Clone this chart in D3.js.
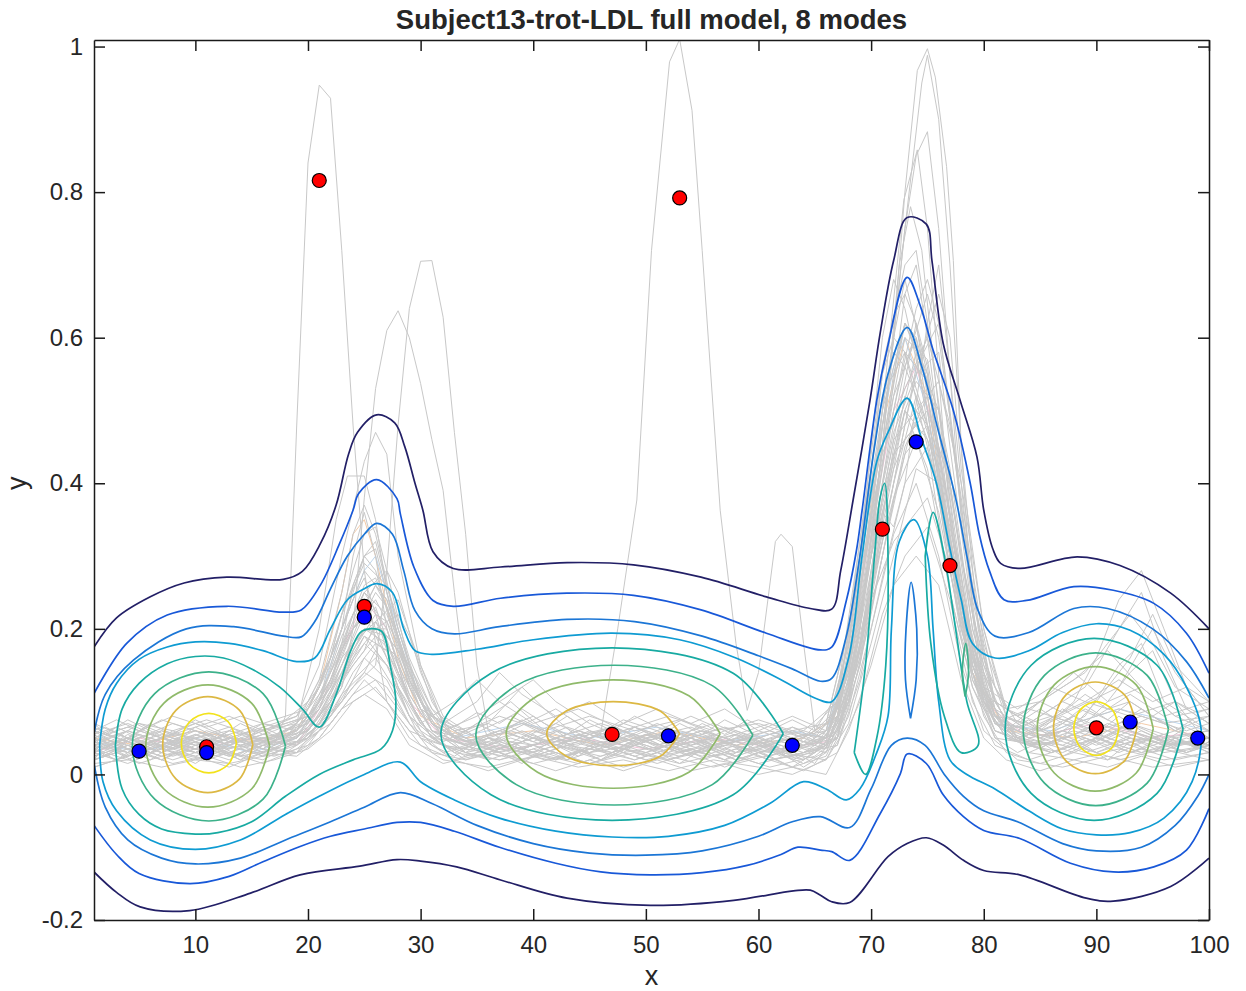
<!DOCTYPE html>
<html>
<head>
<meta charset="utf-8">
<script src="https://cdn.jsdelivr.net/npm/d3@7/dist/d3.min.js"></script>
<style>
  body { margin: 0; background: #fff; }
  text { font-family: "Liberation Sans", Arial, Helvetica, sans-serif; fill: #262626; }
</style>
</head>
<body>
<div id="chart"></div>
<script>

// ---- data ----
const titleText = "Subject13-trot-LDL full model, 8 modes";
const xTicks = [10, 20, 30, 40, 50, 60, 70, 80, 90, 100];
const yTicks = [-0.2, 0, 0.2, 0.4, 0.6, 0.8, 1];
const yTickLabels = ["-0.2", "0", "0.2", "0.4", "0.6", "0.8", "1"];

// red and blue mode markers [x, y]
const redPoints = [[21, 0.816], [53, 0.792], [25, 0.231], [11, 0.038], [47, 0.055], [71, 0.337], [77, 0.287], [90, 0.064]];
const bluePoints = [[5, 0.032], [11, 0.030], [25, 0.216], [52, 0.053], [63, 0.040], [74, 0.457], [93, 0.072], [99, 0.050]];

// gray trajectories, [x, y] vertices
const grayCurves = [
  [[1,0.03],[3,0.045],[6,0.03],[9,0.05],[12,0.035],[15,0.04],[18,0.05],[20,0.09],[22,0.16],[24,0.24],[25,0.27],[26,0.22],[28,0.12],[30,0.06],[33,0.03],[36,0.05],[40,0.03],[44,0.05],[48,0.03],[52,0.04],[56,0.025],[60,0.035],[64,0.02],[66,0.04],[68,0.12],[70,0.3],[72,0.5],[73,0.58],[75,0.45],[77,0.25],[79,0.12],[81,0.06],[84,0.04],[88,0.06],[92,0.04],[96,0.055],[100,0.035]],
  [[1,0.05],[4,0.03],[7,0.06],[10,0.04],[13,0.055],[16,0.03],[19,0.06],[21,0.12],[23,0.2],[24,0.3],[25,0.36],[26,0.3],[27,0.2],[29,0.1],[31,0.05],[34,0.06],[38,0.1],[41,0.06],[45,0.04],[49,0.055],[53,0.03],[57,0.045],[61,0.02],[65,0.03],[67,0.08],[69,0.22],[71,0.42],[73,0.66],[74,0.7],[75,0.6],[77,0.35],[79,0.15],[81,0.08],[85,0.05],[89,0.09],[93,0.06],[97,0.04],[100,0.05]],
  [[1,0.02],[4,0.04],[7,0.025],[10,0.035],[13,0.02],[16,0.045],[19,0.04],[21,0.08],[23,0.15],[25,0.22],[26,0.25],[27,0.23],[29,0.13],[31,0.07],[34,0.03],[37,0.04],[41,0.02],[45,0.035],[49,0.02],[53,0.04],[57,0.02],[61,0.04],[64,0.01],[66,0.03],[68,0.1],[70,0.26],[72,0.4],[74,0.52],[76,0.42],[78,0.22],[80,0.1],[82,0.05],[86,0.03],[90,0.05],[94,0.03],[98,0.05],[100,0.04]],
  [[1,0.04],[4,0.06],[7,0.04],[10,0.06],[13,0.04],[16,0.06],[19,0.08],[21,0.15],[23,0.3],[25,0.43],[26,0.47],[27,0.44],[28,0.3],[30,0.15],[32,0.08],[35,0.05],[39,0.07],[43,0.04],[47,0.06],[51,0.04],[55,0.06],[59,0.04],[63,0.05],[66,0.06],[68,0.18],[70,0.4],[72,0.6],[73,0.68],[75,0.55],[77,0.3],[79,0.14],[81,0.07],[85,0.06],[89,0.04],[93,0.07],[97,0.05],[100,0.06]],
  [[1,0.035],[4,0.02],[7,0.045],[10,0.03],[13,0.05],[16,0.035],[19,0.07],[21,0.2],[22.5,0.35],[23.5,0.41],[25,0.41],[26,0.35],[27,0.25],[29,0.12],[31,0.06],[34,0.04],[38,0.06],[42,0.04],[46,0.025],[50,0.045],[54,0.03],[58,0.05],[62,0.03],[66,0.05],[68,0.15],[70,0.35],[71,0.5],[73,0.62],[74,0.6],[76,0.4],[78,0.2],[80,0.1],[83,0.05],[87,0.08],[91,0.05],[95,0.08],[100,0.04]],
  [[1,0.05],[4,0.035],[7,0.05],[10,0.03],[13,0.045],[16,0.05],[17,0.04],[18,0.08],[19,0.48],[20,0.84],[21,0.947],[22,0.929],[23,0.72],[24,0.48],[25,0.28],[26,0.18],[27,0.1],[29,0.06],[32,0.04],[36,0.03],[40,0.05],[44,0.03],[48,0.05],[52,0.03],[56,0.05],[60,0.03],[64,0.04],[67,0.06],[69,0.16],[71,0.35],[73,0.52],[75,0.48],[77,0.3],[79,0.13],[81,0.06],[85,0.04],[89,0.06],[93,0.04],[97,0.06],[100,0.04]],
  [[1,0.025],[4,0.04],[7,0.02],[10,0.045],[13,0.03],[16,0.02],[19,0.045],[22,0.08],[24,0.12],[26,0.15],[27,0.28],[28,0.48],[29,0.64],[30,0.705],[31,0.706],[32,0.628],[33,0.47],[34,0.33],[35,0.15],[36,0.06],[38,0.04],[42,0.06],[46,0.04],[50,0.03],[54,0.05],[58,0.03],[62,0.045],[66,0.03],[68,0.1],[70,0.25],[72,0.45],[74,0.58],[76,0.5],[78,0.3],[80,0.14],[82,0.07],[86,0.05],[90,0.03],[94,0.05],[98,0.03],[100,0.04]],
  [[1,0.04],[4,0.05],[7,0.03],[10,0.05],[13,0.035],[16,0.05],[19,0.04],[21,0.07],[23,0.12],[24,0.2],[25,0.38],[26,0.53],[27,0.61],[28,0.637],[29,0.6],[30,0.537],[31,0.46],[32,0.39],[33,0.25],[34,0.12],[36,0.05],[40,0.04],[44,0.06],[48,0.04],[52,0.06],[56,0.04],[60,0.05],[64,0.03],[67,0.05],[69,0.2],[71,0.45],[73,0.62],[75,0.55],[77,0.32],[79,0.15],[81,0.07],[85,0.05],[89,0.07],[93,0.05],[97,0.04],[100,0.05]],
  [[1,0.03],[4,0.05],[7,0.035],[10,0.025],[13,0.045],[16,0.03],[19,0.05],[21,0.1],[23,0.18],[25,0.22],[27,0.16],[29,0.08],[32,0.04],[36,0.03],[40,0.05],[44,0.04],[46,0.057],[47.5,0.2],[49.2,0.377],[50.5,0.72],[52.1,0.979],[53,1.01],[54.1,0.912],[55,0.72],[56.6,0.363],[58,0.18],[59,0.088],[60,0.14],[61.5,0.32],[62,0.33],[63,0.313],[64,0.18],[65,0.06],[67,0.05],[69,0.18],[71,0.38],[73,0.5],[75,0.42],[77,0.25],[79,0.12],[81,0.05],[85,0.04],[89,0.06],[93,0.03],[97,0.05],[100,0.03]],
  [[1,0.045],[4,0.03],[7,0.05],[10,0.04],[13,0.025],[16,0.04],[19,0.05],[21,0.09],[23,0.14],[25,0.2],[27,0.18],[29,0.1],[31,0.05],[35,0.04],[39,0.02],[43,0.04],[47,0.03],[51,0.05],[55,0.03],[59,0.05],[63,0.02],[66,0.04],[68,0.1],[70,0.3],[72,0.6],[73,0.8],[74.1,0.967],[75,0.997],[75.7,0.958],[76.7,0.835],[77.3,0.706],[78,0.45],[79,0.22],[80,0.1],[82,0.05],[86,0.03],[90,0.05],[94,0.03],[98,0.045],[100,0.03]],
  [[1,0.02],[4,0.035],[7,0.02],[10,0.04],[13,0.05],[16,0.035],[19,0.03],[21,0.06],[23,0.1],[25,0.16],[27,0.13],[29,0.07],[32,0.03],[36,0.045],[40,0.03],[44,0.015],[48,0.035],[52,0.02],[56,0.035],[60,0.015],[64,0.03],[67,0.06],[69,0.2],[71,0.45],[73,0.75],[74.5,0.95],[75,0.988],[76,0.9],[77,0.7],[78,0.45],[79.5,0.2],[81,0.09],[83,0.05],[87,0.07],[91,0.05],[95,0.03],[100,0.05]],
  [[1,0.06],[4,0.045],[7,0.06],[10,0.05],[13,0.065],[16,0.045],[19,0.07],[21,0.12],[23,0.2],[25,0.28],[27,0.24],[29,0.14],[31,0.08],[34,0.05],[38,0.08],[42,0.05],[46,0.07],[50,0.05],[54,0.065],[58,0.04],[62,0.06],[66,0.05],[68,0.15],[70,0.35],[72,0.6],[73,0.75],[74,0.85],[75,0.883],[76,0.75],[77,0.55],[78,0.35],[80,0.12],[82,0.06],[86,0.08],[90,0.06],[94,0.08],[98,0.06],[100,0.07]],
  [[1,0.03],[4,0.05],[7,0.04],[10,0.03],[13,0.05],[16,0.04],[19,0.06],[21,0.1],[23,0.22],[25,0.3],[26,0.32],[28,0.2],[30,0.1],[33,0.05],[37,0.03],[41,0.045],[45,0.03],[49,0.04],[53,0.025],[57,0.04],[61,0.03],[65,0.04],[67,0.08],[69,0.25],[71,0.5],[72.9,0.789],[74.1,0.858],[75,0.75],[76,0.55],[77,0.35],[79,0.15],[81,0.07],[84,0.05],[88,0.03],[92,0.06],[96,0.04],[100,0.05]],
  [[1,0.04],[4,0.025],[7,0.04],[10,0.055],[13,0.04],[16,0.025],[19,0.04],[21,0.07],[23,0.13],[25,0.18],[27,0.15],[29,0.08],[32,0.04],[36,0.02],[40,0.04],[44,0.06],[48,0.04],[52,0.02],[56,0.04],[60,0.06],[64,0.04],[67,0.07],[69,0.2],[71,0.45],[72.5,0.7],[73.5,0.78],[74.5,0.72],[76,0.5],[78,0.25],[80,0.1],[82,0.05],[86,0.04],[90,0.07],[94,0.05],[98,0.03],[100,0.045]],
  [[1,0.055],[4,0.07],[7,0.05],[10,0.065],[13,0.08],[16,0.06],[19,0.07],[21,0.11],[23,0.17],[24,0.22],[25,0.24],[26,0.2],[28,0.12],[30,0.07],[33,0.1],[35,0.13],[37,0.1],[40,0.07],[44,0.09],[48,0.06],[52,0.08],[56,0.06],[60,0.07],[64,0.05],[66,0.07],[68,0.2],[70,0.38],[72,0.52],[74,0.6],[76,0.48],[78,0.3],[80,0.15],[82,0.09],[85,0.1],[88,0.14],[91,0.1],[94,0.12],[97,0.08],[100,0.09]],
  [[1,0.015],[4,0.02],[7,0.01],[10,0.02],[13,0.015],[16,0.025],[19,0.03],[21,0.05],[23,0.09],[25,0.13],[27,0.1],[29,0.05],[32,0.02],[36,0.01],[40,0.025],[44,0.01],[48,0.02],[52,0.005],[56,0.02],[60,0.01],[63,0.0],[66,0.02],[68,0.08],[70,0.2],[72,0.33],[74,0.4],[76,0.3],[78,0.15],[80,0.06],[83,0.02],[87,0.01],[91,0.025],[95,0.01],[100,0.02]],
  [[1,0.045],[4,0.06],[7,0.045],[10,0.035],[13,0.06],[16,0.05],[19,0.055],[21,0.09],[23,0.16],[25,0.2],[27,0.19],[29,0.15],[31,0.09],[33,0.05],[36,0.07],[39,0.12],[41,0.09],[44,0.05],[48,0.07],[52,0.05],[56,0.07],[60,0.045],[64,0.06],[67,0.1],[69,0.28],[71,0.55],[73,0.7],[74,0.72],[75,0.62],[77,0.4],[79,0.18],[81,0.09],[84,0.06],[88,0.09],[92,0.12],[95,0.2],[97,0.14],[100,0.08]],
  [[1,0.03],[4,0.015],[7,0.035],[10,0.02],[13,0.03],[16,0.015],[19,0.035],[21,0.06],[23,0.11],[25,0.14],[26,0.17],[28,0.13],[30,0.07],[33,0.03],[37,0.02],[41,0.035],[45,0.015],[49,0.03],[53,0.015],[57,0.03],[61,0.01],[65,0.025],[67,0.05],[69,0.15],[71,0.3],[73,0.45],[75,0.52],[77,0.36],[79,0.18],[81,0.08],[84,0.03],[88,0.02],[92,0.035],[96,0.02],[100,0.03]],
  [[1,0.07],[4,0.05],[7,0.075],[10,0.06],[13,0.045],[16,0.07],[19,0.06],[21,0.1],[23,0.19],[25,0.25],[27,0.28],[28,0.25],[30,0.14],[32,0.07],[35,0.05],[38,0.03],[42,0.05],[46,0.035],[50,0.06],[54,0.04],[58,0.055],[62,0.035],[65,0.06],[67,0.09],[69,0.3],[71,0.6],[72,0.68],[73,0.64],[75,0.5],[77,0.3],[79,0.16],[81,0.08],[84,0.07],[87,0.05],[90,0.1],[93,0.16],[95,0.22],[97,0.15],[100,0.1]],
  [[1,0.035],[4,0.05],[7,0.03],[10,0.045],[13,0.03],[16,0.05],[19,0.045],[21,0.08],[23,0.14],[25,0.19],[27,0.17],[29,0.11],[31,0.06],[34,0.04],[37,0.06],[40,0.08],[43,0.05],[47,0.065],[51,0.04],[55,0.055],[59,0.035],[63,0.05],[66,0.035],[68,0.12],[70,0.28],[71,0.36],[72,0.34],[73,0.4],[75,0.45],[77,0.32],[79,0.16],[81,0.07],[85,0.05],[89,0.08],[92,0.15],[94,0.18],[96,0.1],[100,0.06]],
  [[1,0.025],[4,0.04],[7,0.055],[10,0.04],[13,0.025],[16,0.04],[19,0.03],[21,0.07],[23,0.12],[24,0.17],[25,0.2],[27,0.2],[29,0.1],[31,0.05],[34,0.02],[38,0.04],[42,0.02],[46,0.045],[50,0.025],[54,0.045],[58,0.02],[62,0.04],[65,0.015],[67,0.06],[69,0.18],[71,0.32],[73,0.48],[74,0.55],[76,0.58],[77,0.45],[79,0.22],[81,0.1],[83,0.05],[87,0.04],[91,0.07],[95,0.05],[100,0.035]],
  [[1,0.06],[4,0.045],[7,0.03],[10,0.05],[13,0.06],[16,0.045],[19,0.06],[21,0.09],[23,0.17],[25,0.23],[26,0.26],[27,0.23],[29,0.14],[31,0.07],[34,0.045],[38,0.06],[42,0.09],[45,0.06],[49,0.045],[53,0.06],[57,0.045],[61,0.06],[64,0.045],[67,0.08],[69,0.22],[71,0.4],[73,0.56],[75,0.66],[76,0.6],[78,0.38],[80,0.18],[82,0.09],[85,0.07],[89,0.1],[93,0.08],[97,0.1],[100,0.07]],
  [[1,0.01],[4,0.025],[7,0.04],[10,0.025],[13,0.01],[16,0.03],[19,0.025],[21,0.05],[23,0.09],[25,0.11],[27,0.09],[29,0.04],[32,0.015],[36,0.03],[40,0.015],[44,0.03],[48,0.01],[52,0.025],[56,0.01],[60,0.025],[64,0.005],[67,0.03],[69,0.1],[71,0.22],[73,0.3],[75,0.34],[77,0.24],[79,0.1],[81,0.04],[84,0.02],[88,0.04],[92,0.02],[96,0.035],[100,0.02]],
  [[1,0.05],[4,0.065],[7,0.05],[10,0.07],[13,0.05],[16,0.065],[19,0.08],[21,0.12],[23,0.22],[24,0.28],[25,0.33],[26,0.34],[27,0.28],[29,0.15],[31,0.08],[34,0.06],[37,0.08],[41,0.06],[45,0.08],[49,0.06],[53,0.075],[57,0.05],[61,0.07],[64,0.05],[67,0.1],[69,0.3],[70,0.42],[71,0.55],[72,0.6],[73,0.58],[75,0.48],[77,0.28],[79,0.13],[81,0.07],[84,0.09],[88,0.07],[92,0.09],[96,0.07],[100,0.08]],
  [[1,0.04],[4,0.03],[7,0.045],[10,0.03],[13,0.04],[16,0.055],[19,0.05],[21,0.08],[23,0.13],[25,0.17],[26,0.21],[28,0.24],[30,0.15],[32,0.07],[35,0.04],[39,0.03],[43,0.05],[47,0.035],[51,0.05],[55,0.035],[59,0.05],[63,0.03],[66,0.05],[68,0.14],[70,0.32],[72,0.47],[74,0.55],[76,0.66],[77,0.6],[78,0.42],[80,0.2],[82,0.08],[85,0.05],[89,0.03],[93,0.05],[97,0.03],[100,0.04]],
  [[1,0.02],[4,0.035],[7,0.05],[10,0.06],[13,0.045],[16,0.06],[19,0.04],[21,0.07],[23,0.1],[25,0.14],[27,0.12],[29,0.07],[31,0.03],[34,0.02],[38,0.035],[42,0.02],[46,0.04],[50,0.02],[54,0.035],[58,0.015],[62,0.03],[66,0.02],[68,0.07],[70,0.18],[72,0.3],[74,0.42],[76,0.4],[78,0.25],[80,0.12],[82,0.06],[85,0.1],[88,0.13],[91,0.17],[94,0.12],[97,0.08],[100,0.06]],
  [[1,0.035],[3,0.05],[5,0.04],[8,0.055],[11,0.045],[14,0.06],[17,0.04],[20,0.06],[22,0.1],[24,0.15],[26,0.19],[28,0.16],[30,0.09],[32,0.05],[35,0.035],[38,0.05],[41,0.035],[44,0.05],[47,0.04],[50,0.055],[53,0.04],[56,0.05],[59,0.03],[62,0.045],[65,0.03],[67,0.06],[69,0.16],[71,0.3],[73,0.44],[75,0.48],[77,0.34],[79,0.17],[81,0.08],[84,0.05],[87,0.06],[90,0.045],[93,0.07],[96,0.05],[100,0.06]],
  [[1,0.06],[3,0.04],[5,0.055],[8,0.04],[11,0.06],[14,0.045],[17,0.06],[20,0.08],[22,0.14],[24,0.22],[25,0.25],[27,0.2],[29,0.11],[31,0.06],[34,0.05],[37,0.035],[40,0.06],[43,0.045],[46,0.06],[49,0.04],[52,0.055],[55,0.04],[58,0.06],[61,0.04],[64,0.055],[66,0.05],[68,0.16],[70,0.34],[72,0.55],[73,0.62],[74,0.58],[76,0.38],[78,0.19],[80,0.09],[83,0.06],[86,0.09],[89,0.12],[92,0.2],[94,0.25],[96,0.16],[98,0.09],[100,0.07]],
  [[1,0.02],[3,0.03],[5,0.015],[8,0.03],[11,0.02],[14,0.035],[17,0.025],[20,0.04],[22,0.08],[24,0.13],[26,0.16],[28,0.11],[30,0.05],[33,0.02],[36,0.035],[39,0.02],[42,0.03],[45,0.015],[48,0.03],[51,0.015],[54,0.03],[57,0.01],[60,0.03],[63,0.01],[66,0.025],[68,0.09],[70,0.22],[72,0.38],[74,0.46],[76,0.36],[78,0.2],[80,0.08],[82,0.03],[85,0.015],[88,0.03],[91,0.02],[94,0.035],[97,0.02],[100,0.03]],
  [[1,0.05],[3,0.065],[5,0.05],[8,0.07],[11,0.055],[14,0.04],[17,0.055],[20,0.07],[22,0.13],[24,0.2],[25,0.22],[26,0.24],[28,0.18],[30,0.1],[32,0.06],[35,0.08],[38,0.11],[40,0.13],[42,0.1],[45,0.07],[48,0.05],[51,0.07],[54,0.05],[57,0.065],[60,0.05],[63,0.065],[66,0.05],[68,0.14],[70,0.3],[72,0.42],[73,0.46],[75,0.5],[77,0.4],[79,0.2],[81,0.1],[84,0.07],[87,0.1],[90,0.08],[93,0.11],[96,0.08],[100,0.1]],
  [[1,0.03],[3,0.02],[5,0.035],[8,0.02],[11,0.035],[14,0.025],[17,0.035],[20,0.05],[22,0.09],[24,0.17],[26,0.22],[27,0.21],[29,0.12],[31,0.06],[34,0.03],[37,0.02],[40,0.035],[43,0.02],[46,0.035],[49,0.02],[52,0.035],[55,0.02],[58,0.035],[61,0.02],[64,0.03],[67,0.04],[69,0.13],[71,0.27],[73,0.4],[75,0.62],[76,0.7],[77,0.55],[79,0.25],[81,0.1],[83,0.05],[86,0.03],[89,0.05],[92,0.03],[95,0.05],[98,0.03],[100,0.04]],
  [[1,0.065],[3,0.05],[5,0.07],[8,0.06],[11,0.075],[14,0.06],[17,0.075],[20,0.09],[22,0.15],[24,0.25],[25,0.3],[26,0.28],[28,0.17],[30,0.09],[33,0.06],[36,0.07],[39,0.05],[42,0.07],[45,0.05],[48,0.075],[51,0.06],[54,0.08],[57,0.06],[60,0.075],[63,0.06],[66,0.07],[68,0.2],[70,0.44],[71,0.56],[72,0.63],[73,0.66],[74,0.62],[76,0.42],[78,0.22],[80,0.11],[83,0.08],[86,0.11],[89,0.14],[91,0.18],[93,0.22],[95,0.18],[97,0.12],[100,0.09]],
  [[1,0.025],[3,0.04],[5,0.03],[8,0.045],[11,0.03],[14,0.045],[17,0.03],[20,0.05],[22,0.07],[24,0.11],[26,0.13],[28,0.09],[30,0.05],[33,0.035],[36,0.05],[39,0.035],[42,0.05],[45,0.03],[48,0.05],[51,0.035],[54,0.05],[57,0.03],[60,0.045],[63,0.025],[66,0.04],[68,0.11],[70,0.24],[72,0.32],[74,0.36],[75,0.38],[77,0.28],[79,0.14],[81,0.06],[84,0.04],[87,0.06],[90,0.04],[93,0.06],[96,0.04],[100,0.05]],
  [[1,0.045],[3,0.06],[5,0.07],[8,0.05],[11,0.04],[14,0.055],[17,0.065],[20,0.08],[22,0.12],[23,0.18],[24,0.26],[25,0.3],[26,0.31],[27,0.25],[29,0.13],[31,0.07],[34,0.045],[37,0.06],[40,0.045],[43,0.065],[46,0.05],[49,0.065],[52,0.045],[55,0.06],[58,0.045],[61,0.06],[64,0.04],[66,0.06],[68,0.18],[70,0.36],[72,0.5],[74,0.64],[75,0.68],[76,0.62],[78,0.36],[80,0.16],[82,0.08],[85,0.06],[88,0.08],[91,0.06],[94,0.09],[97,0.06],[100,0.08]],
  [[1,0.01],[3,0.02],[5,0.03],[8,0.015],[11,0.025],[14,0.01],[17,0.02],[20,0.035],[22,0.06],[24,0.1],[26,0.12],[28,0.08],[30,0.04],[33,0.02],[36,0.005],[39,0.02],[42,0.005],[45,0.02],[48,0.005],[51,0.02],[54,0.005],[57,0.015],[60,0.0],[63,0.01],[66,0.0],[68,0.06],[70,0.15],[72,0.26],[74,0.3],[76,0.26],[78,0.13],[80,0.05],[82,0.02],[85,0.005],[88,0.02],[91,0.01],[94,0.025],[97,0.01],[100,0.02]],
  [[1,0.04],[3,0.055],[5,0.045],[8,0.035],[11,0.05],[14,0.035],[17,0.05],[19,0.07],[21,0.13],[23,0.25],[24,0.33],[25,0.37],[26,0.33],[28,0.2],[30,0.11],[32,0.06],[35,0.04],[38,0.055],[41,0.04],[44,0.055],[47,0.04],[50,0.055],[53,0.04],[56,0.055],[59,0.04],[62,0.055],[65,0.04],[67,0.07],[69,0.24],[71,0.48],[72,0.58],[73,0.56],[74,0.52],[76,0.44],[78,0.26],[80,0.12],[82,0.06],[85,0.04],[88,0.055],[91,0.04],[94,0.06],[97,0.04],[100,0.05]],
  [[1,0.055],[3,0.035],[5,0.06],[8,0.045],[11,0.03],[14,0.05],[17,0.04],[20,0.065],[22,0.1],[24,0.16],[26,0.2],[28,0.22],[29,0.19],[31,0.1],[33,0.05],[36,0.04],[39,0.06],[42,0.04],[45,0.06],[48,0.04],[51,0.06],[54,0.04],[57,0.06],[60,0.04],[63,0.06],[66,0.04],[68,0.12],[70,0.26],[72,0.38],[74,0.5],[76,0.54],[78,0.4],[80,0.2],[82,0.09],[85,0.06],[88,0.1],[90,0.16],[92,0.24],[94,0.28],[96,0.2],[98,0.12],[100,0.08]],
  [[1,0.03],[3,0.045],[5,0.025],[8,0.04],[11,0.025],[14,0.04],[17,0.05],[20,0.06],[22,0.11],[24,0.19],[25,0.23],[26,0.26],[27,0.24],[29,0.14],[31,0.07],[34,0.04],[37,0.025],[40,0.04],[43,0.025],[46,0.04],[49,0.025],[52,0.04],[55,0.025],[58,0.04],[61,0.025],[64,0.04],[67,0.05],[69,0.17],[71,0.38],[73,0.54],[74,0.62],[75,0.56],[77,0.33],[79,0.15],[81,0.07],[84,0.04],[87,0.03],[90,0.05],[93,0.03],[96,0.05],[100,0.035]],
  [[1,0.06],[3,0.075],[5,0.06],[8,0.08],[11,0.065],[14,0.08],[17,0.065],[20,0.08],[22,0.12],[24,0.18],[26,0.21],[28,0.15],[30,0.09],[32,0.07],[35,0.1],[37,0.14],[39,0.11],[42,0.08],[45,0.1],[48,0.07],[51,0.09],[54,0.07],[57,0.09],[60,0.06],[63,0.08],[66,0.06],[68,0.15],[70,0.3],[72,0.44],[74,0.48],[76,0.4],[78,0.24],[80,0.12],[83,0.09],[86,0.12],[89,0.1],[92,0.13],[95,0.1],[98,0.12],[100,0.1]],
  [[1,0.035],[3,0.02],[5,0.04],[8,0.025],[11,0.04],[14,0.02],[17,0.035],[20,0.05],[22,0.08],[24,0.14],[26,0.18],[27,0.17],[29,0.1],[31,0.05],[34,0.025],[37,0.04],[40,0.025],[43,0.04],[46,0.02],[49,0.04],[52,0.025],[55,0.04],[58,0.02],[61,0.035],[64,0.015],[67,0.04],[69,0.15],[71,0.34],[73,0.5],[74,0.54],[76,0.5],[77,0.42],[79,0.2],[81,0.08],[84,0.03],[87,0.05],[90,0.03],[93,0.05],[96,0.03],[100,0.04]],
  [[1,0.05],[2,0.035],[4,0.055],[6,0.04],[8,0.06],[10,0.045],[12,0.03],[14,0.05],[16,0.035],[18,0.055],[20,0.07],[22,0.12],[24,0.2],[26,0.23],[28,0.14],[30,0.07],[32,0.045],[34,0.06],[36,0.04],[38,0.065],[40,0.05],[42,0.035],[44,0.055],[46,0.04],[48,0.06],[50,0.045],[52,0.03],[54,0.05],[56,0.035],[58,0.055],[60,0.04],[62,0.025],[64,0.045],[66,0.05],[68,0.13],[70,0.3],[72,0.46],[74,0.5],[76,0.42],[78,0.24],[80,0.1],[82,0.06],[84,0.075],[86,0.05],[88,0.07],[90,0.055],[92,0.08],[94,0.06],[96,0.045],[98,0.065],[100,0.05]],
  [[1,0.02],[2,0.04],[4,0.025],[6,0.045],[8,0.03],[10,0.015],[12,0.035],[14,0.02],[16,0.04],[18,0.03],[20,0.05],[22,0.1],[24,0.16],[25,0.19],[27,0.15],[29,0.08],[31,0.04],[33,0.025],[35,0.045],[37,0.03],[39,0.015],[41,0.035],[43,0.02],[45,0.04],[47,0.025],[49,0.045],[51,0.03],[53,0.015],[55,0.035],[57,0.02],[59,0.04],[61,0.025],[63,0.01],[65,0.03],[67,0.05],[69,0.17],[71,0.36],[73,0.5],[75,0.46],[77,0.3],[79,0.14],[81,0.05],[83,0.03],[85,0.045],[87,0.025],[89,0.04],[91,0.02],[93,0.045],[95,0.03],[97,0.05],[99,0.035],[100,0.04]],
  [[1,0.07],[2,0.055],[4,0.075],[6,0.06],[8,0.045],[10,0.065],[12,0.05],[14,0.07],[16,0.055],[18,0.075],[20,0.1],[22,0.16],[23,0.22],[25,0.29],[27,0.26],[29,0.16],[31,0.09],[33,0.065],[35,0.085],[37,0.07],[39,0.09],[41,0.07],[43,0.055],[45,0.075],[47,0.06],[49,0.08],[51,0.065],[53,0.05],[55,0.07],[57,0.055],[59,0.075],[61,0.06],[63,0.075],[65,0.06],[67,0.11],[69,0.32],[71,0.52],[73,0.58],[75,0.54],[77,0.36],[79,0.18],[81,0.1],[83,0.08],[85,0.1],[87,0.085],[89,0.11],[91,0.09],[93,0.1],[95,0.08],[97,0.1],[99,0.085],[100,0.09]],
  [[1,0.04],[2,0.025],[4,0.045],[6,0.03],[8,0.05],[10,0.035],[12,0.055],[14,0.04],[16,0.025],[18,0.045],[20,0.06],[22,0.1],[24,0.18],[26,0.21],[28,0.17],[30,0.1],[32,0.05],[34,0.03],[36,0.05],[38,0.035],[40,0.055],[42,0.04],[44,0.025],[46,0.045],[48,0.03],[50,0.05],[52,0.035],[54,0.055],[56,0.04],[58,0.025],[60,0.045],[62,0.03],[64,0.05],[66,0.04],[68,0.1],[70,0.24],[72,0.4],[74,0.56],[76,0.62],[77,0.5],[79,0.24],[81,0.1],[83,0.05],[85,0.035],[87,0.055],[89,0.04],[91,0.06],[93,0.045],[95,0.03],[97,0.05],[99,0.035],[100,0.045]],
  [[1,0.03],[2,0.05],[4,0.035],[6,0.02],[8,0.04],[10,0.055],[12,0.04],[14,0.025],[16,0.045],[18,0.06],[20,0.075],[22,0.13],[24,0.22],[25,0.26],[26,0.27],[28,0.19],[30,0.1],[32,0.05],[34,0.04],[36,0.025],[38,0.045],[40,0.03],[42,0.05],[44,0.035],[46,0.02],[48,0.04],[50,0.055],[52,0.04],[54,0.025],[56,0.045],[58,0.03],[60,0.05],[62,0.035],[64,0.02],[66,0.045],[68,0.14],[70,0.33],[72,0.52],[73,0.6],[75,0.57],[77,0.38],[79,0.17],[81,0.07],[83,0.045],[85,0.065],[87,0.09],[89,0.07],[91,0.1],[93,0.14],[95,0.17],[97,0.1],[99,0.06],[100,0.05]],
  [[1,0.055],[2,0.065],[4,0.05],[6,0.07],[8,0.055],[10,0.075],[12,0.06],[14,0.045],[16,0.065],[18,0.05],[20,0.08],[22,0.13],[24,0.21],[25,0.25],[27,0.22],[29,0.13],[31,0.07],[33,0.05],[35,0.07],[37,0.055],[39,0.075],[41,0.06],[43,0.08],[45,0.06],[47,0.045],[49,0.065],[51,0.05],[53,0.07],[55,0.055],[57,0.075],[59,0.06],[61,0.045],[63,0.065],[65,0.05],[67,0.09],[69,0.26],[71,0.44],[73,0.53],[75,0.6],[77,0.48],[79,0.26],[81,0.12],[83,0.07],[85,0.09],[87,0.07],[89,0.095],[91,0.075],[93,0.1],[95,0.08],[97,0.06],[99,0.08],[100,0.07]]
];

// a few faint coloured trajectories mixed into the gray ones
const pastelColors = ["#f3cba8", "#eec2d6", "#bdd6ee"];
const pastelCurves = [
  [[1,0.05],[5,0.04],[10,0.06],[15,0.045],[19,0.06],[21,0.12],[23,0.25],[24,0.33],[25,0.35],[26,0.3],[28,0.16],[30,0.08],[34,0.05],[40,0.06],[46,0.04],[52,0.06],[58,0.04],[64,0.05],[67,0.08],[69,0.25],[71,0.48],[73,0.6],[75,0.52],[77,0.3],[79,0.14],[82,0.06],[88,0.05],[94,0.07],[100,0.05]],
  [[1,0.03],[5,0.05],[10,0.035],[15,0.05],[19,0.04],[21,0.09],[23,0.17],[25,0.24],[27,0.2],[29,0.1],[32,0.05],[38,0.035],[44,0.05],[50,0.035],[56,0.05],[62,0.035],[66,0.045],[68,0.15],[70,0.34],[72,0.5],[74,0.56],[76,0.45],[78,0.25],[80,0.1],[84,0.05],[90,0.07],[95,0.05],[100,0.06]],
  [[1,0.045],[5,0.03],[10,0.05],[15,0.03],[19,0.05],[21,0.1],[23,0.2],[25,0.28],[26,0.3],[28,0.2],[30,0.1],[33,0.05],[39,0.07],[45,0.05],[51,0.065],[57,0.045],[63,0.06],[66,0.05],[68,0.18],[70,0.4],[72,0.56],[73,0.6],[75,0.5],[77,0.32],[79,0.15],[81,0.07],[86,0.06],[92,0.09],[100,0.06]]
];

// contour lines, one list of polylines per level (outer -> inner), [x, y] vertices
const levelColors = ["#221f66", "#1858d8", "#1b76d6", "#0e9bd2", "#17aaa2", "#3cb18a", "#8fba6a", "#dcb843", "#f2e21c"];

const contourL1 = [
  [[1,0.175],[3,0.215],[6,0.244],[9,0.263],[12.8,0.271],[17.8,0.268],[19.5,0.279],[21.1,0.317],[22.5,0.37],[23.6,0.44],[24.4,0.47],[26.1,0.494],[27.7,0.483],[28.6,0.45],[29.5,0.4],[30.2,0.363],[31.1,0.306],[32.9,0.283],[37.1,0.285],[43,0.291],[48.9,0.288],[54.9,0.271],[60.7,0.244],[64.6,0.228],[66.5,0.227],[67.3,0.28],[68.4,0.377],[69.9,0.514],[70.8,0.606],[72,0.706],[73.2,0.765],[74.9,0.756],[75.4,0.706],[76.4,0.592],[77.9,0.514],[79.4,0.436],[80,0.363],[80.8,0.31],[81.5,0.29],[83.2,0.283],[88.3,0.299],[92.1,0.287],[96.6,0.249],[100,0.2]],
  [[1,-0.134],[3,-0.162],[5.1,-0.182],[9.5,-0.187],[14.9,-0.163],[19.3,-0.138],[24.6,-0.126],[27.9,-0.117],[30,-0.119],[33.2,-0.127],[37.1,-0.145],[43,-0.17],[50.4,-0.18],[57.8,-0.173],[63.1,-0.16],[64.6,-0.159],[65.5,-0.166],[66.5,-0.175],[68.1,-0.176],[71.5,-0.113],[73.2,-0.095],[74.9,-0.087],[76.4,-0.097],[78.2,-0.118],[80,-0.132],[83.2,-0.138],[89.1,-0.17],[91.5,-0.174],[96.6,-0.154],[100,-0.115]]
];
const contourL2 = [
  [[1,0.111],[3.9,0.18],[7.5,0.219],[12.8,0.231],[17.8,0.223],[19.4,0.226],[21.1,0.26],[22.8,0.317],[24,0.363],[24.5,0.386],[26.1,0.405],[27.9,0.379],[28.2,0.358],[29.4,0.285],[31.1,0.239],[32.9,0.231],[37.1,0.242],[43,0.249],[48.9,0.246],[54.9,0.226],[60.7,0.194],[65.5,0.171],[66.5,0.175],[67.8,0.239],[68.7,0.308],[69.2,0.363],[70.5,0.514],[71.4,0.583],[73.2,0.683],[74.4,0.642],[75.5,0.583],[77.3,0.5],[78.8,0.4],[79.6,0.33],[80.5,0.28],[81.8,0.24],[83.8,0.239],[88,0.258],[91.5,0.253],[95.1,0.235],[98,0.194],[100,0.139]],
  [[1,-0.07],[3,-0.11],[5,-0.136],[9.5,-0.15],[13,-0.14],[16,-0.12],[19.3,-0.099],[22,-0.085],[25,-0.075],[27.9,-0.066],[30,-0.066],[33,-0.078],[37,-0.1],[42,-0.122],[46,-0.134],[50.4,-0.138],[55,-0.135],[59,-0.125],[62,-0.11],[63.5,-0.1],[65.5,-0.104],[66.5,-0.106],[68.1,-0.118],[70.8,-0.054],[72.6,0.001],[73.2,0.028],[74.9,0.015],[76.4,-0.028],[78.2,-0.058],[80,-0.077],[83.2,-0.088],[87.7,-0.122],[91.5,-0.134],[95.1,-0.127],[98,-0.104],[100,-0.047]]
];
const contourL3 = [
  [[1,0.056],[2,0.11],[4.5,0.157],[9.2,0.2],[13.4,0.203],[17.8,0.19],[19.4,0.189],[20.6,0.21],[22,0.255],[23.5,0.3],[25,0.33],[26.1,0.345],[27.5,0.33],[28.5,0.28],[29.5,0.225],[31,0.2],[33,0.193],[37,0.203],[43,0.213],[49,0.21],[55,0.19],[60,0.163],[63,0.145],[65.5,0.128],[66.5,0.132],[67.8,0.19],[69,0.3],[70.3,0.45],[71.5,0.55],[73.2,0.614],[74.5,0.56],[76,0.47],[77.5,0.38],[78.5,0.3],[79.5,0.225],[81,0.19],[84,0.195],[88,0.228],[91,0.228],[95,0.2],[98,0.155],[100,0.105]],
  [[1,0.015],[2,-0.045],[4,-0.09],[7,-0.115],[10,-0.123],[14,-0.115],[18,-0.09],[22,-0.065],[25,-0.045],[28.2,-0.025],[31,-0.04],[35,-0.07],[40,-0.095],[45,-0.108],[50,-0.111],[55,-0.105],[60,-0.085],[63,-0.065],[65.5,-0.058],[68.1,-0.073],[70,-0.02],[71.8,0.04],[73.2,0.05],[74.8,0.04],[76.5,0.0],[78.2,-0.03],[80,-0.05],[83,-0.065],[87,-0.095],[90,-0.105],[94,-0.1],[97,-0.07],[99,-0.03],[100,0.0]],
  [[73.5,0.077],[74,0.13],[74.05,0.2],[73.55,0.264],[73.1,0.2],[73.05,0.13],[73.5,0.077]]
];
const contourL4 = [
  [[1.5,0.04],[2,0.09],[3,0.125],[5,0.158],[7.5,0.175],[10,0.182],[13,0.18],[16,0.17],[19,0.155],[20.6,0.16],[22,0.2],[23.5,0.24],[25,0.255],[26.1,0.262],[27.5,0.25],[28.5,0.2],[29.5,0.17],[31,0.165],[35,0.172],[40,0.185],[47,0.194],[53,0.185],[58,0.16],[62,0.13],[65,0.105],[66.5,0.1],[68,0.16],[69.2,0.3],[70.5,0.43],[71.5,0.47],[73.2,0.517],[74.5,0.46],[75.8,0.4],[77,0.31],[78,0.24],[79,0.18],[81,0.16],[84,0.17],[87,0.195],[90,0.207],[93,0.198],[96,0.165],[98,0.12],[99.3,0.062],
   [98.5,-0.01],[96,-0.06],[93,-0.08],[90,-0.083],[87,-0.075],[84,-0.05],[81,-0.02],[78.5,0.0],[77,0.02],[76,0.1],[75.5,0.2],[75,0.3],[73.8,0.35],[72.5,0.32],[71.8,0.2],[71.5,0.08],[70.5,0.03],[69,-0.02],[67.8,-0.035],[66,-0.02],[64,-0.01],[61,-0.04],[57,-0.07],[52,-0.085],[47,-0.086],[42,-0.078],[37,-0.06],[33,-0.035],[30,-0.01],[28.2,0.017],[25,0.0],[21,-0.03],[18,-0.055],[14,-0.09],[10,-0.103],[6,-0.09],[3,-0.05],[1.8,-0.01],[1.5,0.04]]
];
const contourL5 = [
  [[2.9,0.04],[3.5,0.09],[5,0.125],[7.5,0.152],[10,0.162],[12.5,0.16],[15,0.145],[17.5,0.12],[19.5,0.09],[21,0.065],[22.5,0.11],[23.8,0.17],[24.8,0.197],[26.5,0.197],[27.3,0.15],[27.8,0.1],[27.5,0.06],[26.5,0.035],[24,0.02],[21,0.0],[18,-0.03],[15,-0.065],[12,-0.08],[10,-0.082],[7,-0.075],[5,-0.055],[3.5,-0.02],[2.9,0.04]],
  [[62.2,0.056],[57.75,0.139],[47,0.174],[36.25,0.139],[31.8,0.056],[36.25,-0.028],[47,-0.063],[57.75,-0.028],[62.2,0.056]],
  [[97.7,0.062],[95.39,0.15],[89.8,0.187],[84.21,0.15],[81.9,0.062],[84.21,-0.026],[89.8,-0.063],[95.39,-0.026],[97.7,0.062]],
  [[68.5,0.03],[69.5,0.15],[70.3,0.3],[70.8,0.38],[71.2,0.4],[71.5,0.3],[71.3,0.15],[70.5,0.05],[69.5,0.0],[68.5,0.03]],
  [[74.8,0.3],[75.5,0.36],[76.5,0.3],[77.5,0.2],[78.5,0.1],[79.5,0.04],[78,0.03],[76.5,0.08],[75.3,0.18],[74.8,0.3]]
];
const contourL6 = [
  [[18,0.039],[16.01,0.111],[11.2,0.141],[6.39,0.111],[4.4,0.039],[6.39,-0.034],[11.2,-0.064],[16.01,-0.034],[18,0.039]],
  [[59.5,0.054],[55.9,0.122],[47.2,0.15],[38.5,0.122],[34.9,0.054],[38.5,-0.014],[47.2,-0.042],[55.9,-0.014],[59.5,0.054]],
  [[96.4,0.062],[94.51,0.136],[89.95,0.167],[85.39,0.136],[83.5,0.062],[85.39,-0.012],[89.95,-0.043],[94.51,-0.012],[96.4,0.062]],
  [[78.35,0.107],[78.65,0.14],[78.4,0.18],[78.1,0.14],[78.35,0.107]]
];
const contourL7 = [
  [[16.6,0.039],[14.99,0.098],[11.1,0.123],[7.21,0.098],[5.6,0.039],[7.21,-0.02],[11.1,-0.045],[14.99,-0.02],[16.6,0.039]],
  [[56.6,0.056],[53.82,0.108],[47.1,0.13],[40.38,0.108],[37.6,0.056],[40.38,0.003],[47.1,-0.019],[53.82,0.003],[56.6,0.056]],
  [[95.05,0.063],[93.54,0.123],[89.9,0.148],[86.26,0.123],[84.75,0.063],[86.26,0.002],[89.9,-0.023],[93.54,0.002],[95.05,0.063]]
];
const contourL8 = [
  [[15.1,0.041],[13.93,0.088],[11.1,0.107],[8.27,0.088],[7.1,0.041],[8.27,-0.006],[11.1,-0.025],[13.93,-0.006],[15.1,0.041]],
  [[53,0.056],[51.27,0.087],[47.1,0.1],[42.93,0.087],[41.2,0.056],[42.93,0.025],[47.1,0.012],[51.27,0.025],[53,0.056]],
  [[93.6,0.064],[92.52,0.109],[89.9,0.127],[87.28,0.109],[86.2,0.064],[87.28,0.019],[89.9,0.001],[92.52,0.019],[93.6,0.064]]
];
const contourL9 = [
  [[13.65,0.043],[12.93,0.072],[11.2,0.084],[9.47,0.072],[8.75,0.043],[9.47,0.014],[11.2,0.002],[12.93,0.014],[13.65,0.043]],
  [[92,0.063],[91.41,0.089],[90,0.1],[88.59,0.089],[88,0.063],[88.59,0.037],[90,0.026],[91.41,0.037],[92,0.063]]
];
const contourLevels = [contourL1, contourL2, contourL3, contourL4, contourL5, contourL6, contourL7, contourL8, contourL9];

// ---- chart ----
const W = 1246, H = 991;
const margin = {top: 40, right: 37, bottom: 71, left: 94};
const width = W - margin.left - margin.right;
const height = H - margin.top - margin.bottom;

const svg = d3.select("#chart").append("svg")
    .attr("width", W)
    .attr("height", H);

const g = svg.append("g")
    .attr("transform", `translate(${margin.left},${margin.top})`);

g.append("defs").append("clipPath").attr("id", "plotClip")
    .append("rect").attr("width", width).attr("height", height);

const x = d3.scaleLinear().domain([1, 100]).range([0, width]);
const y = d3.scaleLinear().domain([-0.2, 1.009]).range([height, 0]);

const plot = g.append("g").attr("clip-path", "url(#plotClip)");

const line = d3.line()
    .x(d => x(d[0]))
    .y(d => y(d[1]));

// pastel + gray trajectories
plot.append("g").selectAll("path")
    .data(pastelCurves)
    .enter().append("path")
    .attr("fill", "none")
    .attr("stroke", (d, i) => pastelColors[i])
    .attr("stroke-width", 1)
    .attr("d", line);

plot.append("g").selectAll("path")
    .data(grayCurves)
    .enter().append("path")
    .attr("fill", "none")
    .attr("stroke", "#c8c8c8")
    .attr("stroke-width", 1)
    .attr("d", line);

// contour levels
const smooth = d3.line()
    .x(d => x(d[0]))
    .y(d => y(d[1]))
    .curve(d3.curveCatmullRom.alpha(0.5));

contourLevels.forEach((lev, i) => {
    plot.append("g").selectAll("path")
        .data(lev)
        .enter().append("path")
        .attr("fill", "none")
        .attr("stroke", levelColors[i])
        .attr("stroke-width", 1.7)
        .attr("stroke-linejoin", "round")
        .attr("d", smooth);
});

// markers
plot.append("g").selectAll("circle")
    .data(redPoints)
    .enter().append("circle")
    .attr("cx", d => x(d[0]))
    .attr("cy", d => y(d[1]))
    .attr("r", 7)
    .attr("fill", "#ff0000")
    .attr("stroke", "#000")
    .attr("stroke-width", 1.2);

plot.append("g").selectAll("circle")
    .data(bluePoints)
    .enter().append("circle")
    .attr("cx", d => x(d[0]))
    .attr("cy", d => y(d[1]))
    .attr("r", 7)
    .attr("fill", "#0000ff")
    .attr("stroke", "#000")
    .attr("stroke-width", 1.2);

// axes, ticks pointing inward on all four sides
const fontSize = 24;
const xAxis = g.append("g")
    .attr("transform", `translate(0,${height})`)
    .call(d3.axisBottom(x).tickValues(xTicks).tickSizeInner(-11).tickSizeOuter(0).tickPadding(16));
const yAxis = g.append("g")
    .call(d3.axisLeft(y).tickValues(yTicks).tickFormat((d, i) => yTickLabels[i]).tickSizeInner(-11).tickSizeOuter(0).tickPadding(11));
const xTop = g.append("g")
    .call(d3.axisTop(x).tickValues(xTicks).tickSizeInner(-11).tickSizeOuter(0).tickFormat(""));
const yRight = g.append("g")
    .attr("transform", `translate(${width},0)`)
    .call(d3.axisRight(y).tickValues(yTicks).tickSizeInner(-11).tickSizeOuter(0).tickFormat(""));

[xAxis, yAxis, xTop, yRight].forEach(a => {
    a.select(".domain").attr("stroke", "#1a1a1a").attr("stroke-width", 1.5);
    a.selectAll(".tick line").attr("stroke", "#1a1a1a").attr("stroke-width", 1.5);
    a.selectAll(".tick text")
        .style("font-family", '"Liberation Sans", Arial, sans-serif')
        .style("font-size", fontSize + "px")
        .attr("fill", "#262626");
});

// title and axis labels
svg.append("text")
    .attr("x", margin.left + width / 2)
    .attr("y", 29)
    .attr("text-anchor", "middle")
    .style("font-size", "27.5px")
    .style("font-weight", "bold")
    .attr("fill", "#111")
    .text(titleText);

svg.append("text")
    .attr("x", margin.left + width / 2)
    .attr("y", 985)
    .attr("text-anchor", "middle")
    .style("font-size", "27px")
    .text("x");

svg.append("text")
    .attr("transform", `translate(26,${margin.top + y(0.4)}) rotate(-90)`)
    .attr("text-anchor", "middle")
    .style("font-size", "27px")
    .text("y");

</script>
</body>
</html>
